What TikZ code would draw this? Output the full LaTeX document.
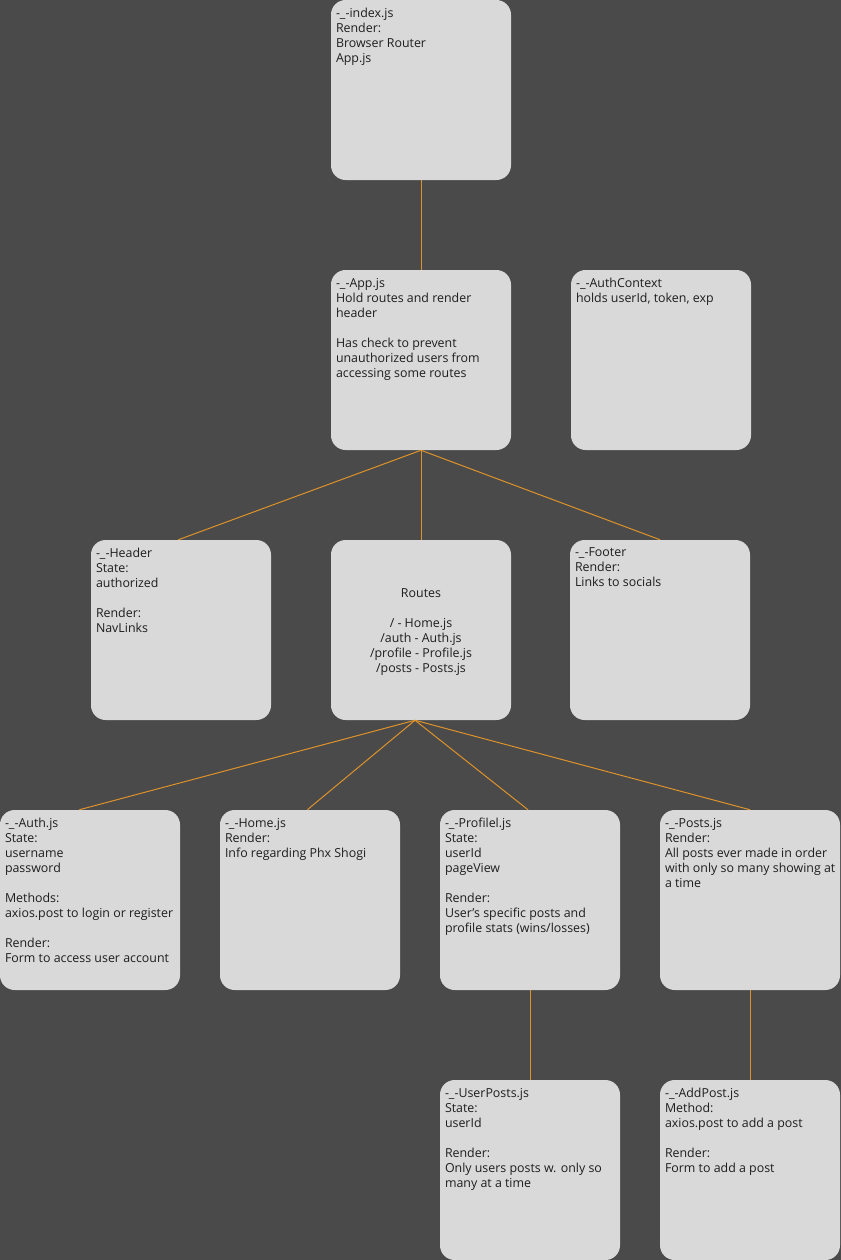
\documentclass[tikz,border=0pt]{standalone}
\usepackage{fontspec}
\setmainfont{Open Sans}
\usepackage{tikz}
\definecolor{bggray}{RGB}{74,74,74}
\definecolor{cardgray}{RGB}{217,217,217}
\definecolor{inkdark}{RGB}{30,30,30}
\definecolor{wireorange}{RGB}{222,146,42}
\newcommand{\cf}{\fontsize{9.3}{11.25}\selectfont}
\newcommand{\gap}{\\[11.25pt]}

\begin{document}
\begin{tikzpicture}[x=0.75pt,y=-0.75pt,
   card/.style={fill=cardgray,rounded corners=11pt,minimum width=135pt,minimum height=135pt,inner sep=0pt},
   cardtext/.style={anchor=north west,align=left,inner sep=0pt,font=\cf,text=inkdark},
   wire/.style={draw=wireorange,line width=0.75pt}]
   \fill[bggray] (0,0) rectangle (841,1260);
   \useasboundingbox (0,0) rectangle (841,1260);
   \node[card] (index)     at (421,  90) {};
   \node[card] (app)       at (421, 360) {};
   \node[card] (authctx)   at (661, 360) {};
   \node[card] (header)    at (181, 630) {};
   \node[card] (routes)    at (421, 630) {};
   \node[card] (footer)    at (660, 630) {};
   \node[card] (auth)      at ( 90, 900) {};
   \node[card] (home)      at (310, 900) {};
   \node[card] (profile)   at (530, 900) {};
   \node[card] (posts)     at (750, 900) {};
   \node[card] (userposts) at (530,1170) {};
   \node[card] (addpost)   at (750,1170) {};
   \coordinate (routesfoot) at ([xshift=-4.5pt]routes.south);
   \draw[wire] (index.south) -- (app.north);
   \draw[wire] (app.south) -- ([xshift=-2pt]header.north);
   \draw[wire] (app.south) -- (routes.north);
   \draw[wire] (app.south) -- (footer.north);
   \draw[wire] (routesfoot) -- ([xshift=-8pt]auth.north);
   \draw[wire] (routesfoot) -- ([xshift=-2pt]home.north);
   \draw[wire] (routesfoot) -- ([xshift=-1.5pt]profile.north);
   \draw[wire] (routesfoot) -- (posts.north);
   \draw[wire] (profile.south) -- (userposts.north);
   \draw[wire] (posts.south) -- (addpost.north);
   \node[cardtext] (indextxt) at ([shift={(3.75pt,-6pt)}]index.north west)
    {-\_-index.js\\Render:\\Browser Router\\App.js};
   \node[cardtext] (apptxt) at ([shift={(3.75pt,-6pt)}]app.north west)
    {-\_-App.js\\Hold routes and render\\header\gap Has check to prevent\\unauthorized users from\\accessing some routes};
   \node[cardtext] (authctxtxt) at ([shift={(3.75pt,-6pt)}]authctx.north west)
    {-\_-AuthContext\\holds userId, token, exp};
   \node[cardtext] (headertxt) at ([shift={(3.75pt,-6pt)}]header.north west)
    {-\_-Header\\State:\\authorized\gap Render:\\NavLinks};
   \node[align=center,inner sep=0pt,font=\cf,text=inkdark] (routestxt) at ([yshift=-1.5pt]routes.center)
    {Routes\gap / - Home.js\\/auth - Auth.js\\/profile - Profile.js\\/posts - Posts.js};
   \node[cardtext] (footertxt) at ([shift={(3.75pt,-6pt)}]footer.north west)
    {-\_-Footer\\Render:\\Links to socials};
   \node[cardtext] (authtxt) at ([shift={(3.75pt,-6pt)}]auth.north west)
    {-\_-Auth.js\\State:\\username\\password\gap Methods:\\axios.post to login or register\gap Render:\\Form to access user account};
   \node[cardtext] (hometxt) at ([shift={(3.75pt,-6pt)}]home.north west)
    {-\_-Home.js\\Render:\\Info regarding Phx Shogi};
   \node[cardtext] (profiletxt) at ([shift={(3.75pt,-6pt)}]profile.north west)
    {-\_-Profilel.js\\State:\\userId\\pageView\gap Render:\\User’s specific posts and\\profile stats (wins/losses)};
   \node[cardtext] (poststxt) at ([shift={(3.75pt,-6pt)}]posts.north west)
    {-\_-Posts.js\\Render:\\All posts ever made in order\\with only so many showing at\\a time};
   \node[cardtext] (userpoststxt) at ([shift={(3.75pt,-6pt)}]userposts.north west)
    {-\_-UserPosts.js\\State:\\userId\gap Render:\\Only users posts w. only so\\many at a time};
   \node[cardtext] (addposttxt) at ([shift={(3.75pt,-6pt)}]addpost.north west)
    {-\_-AddPost.js\\Method:\\axios.post to add a post\gap Render:\\Form to add a post};
\end{tikzpicture}
\end{document}
